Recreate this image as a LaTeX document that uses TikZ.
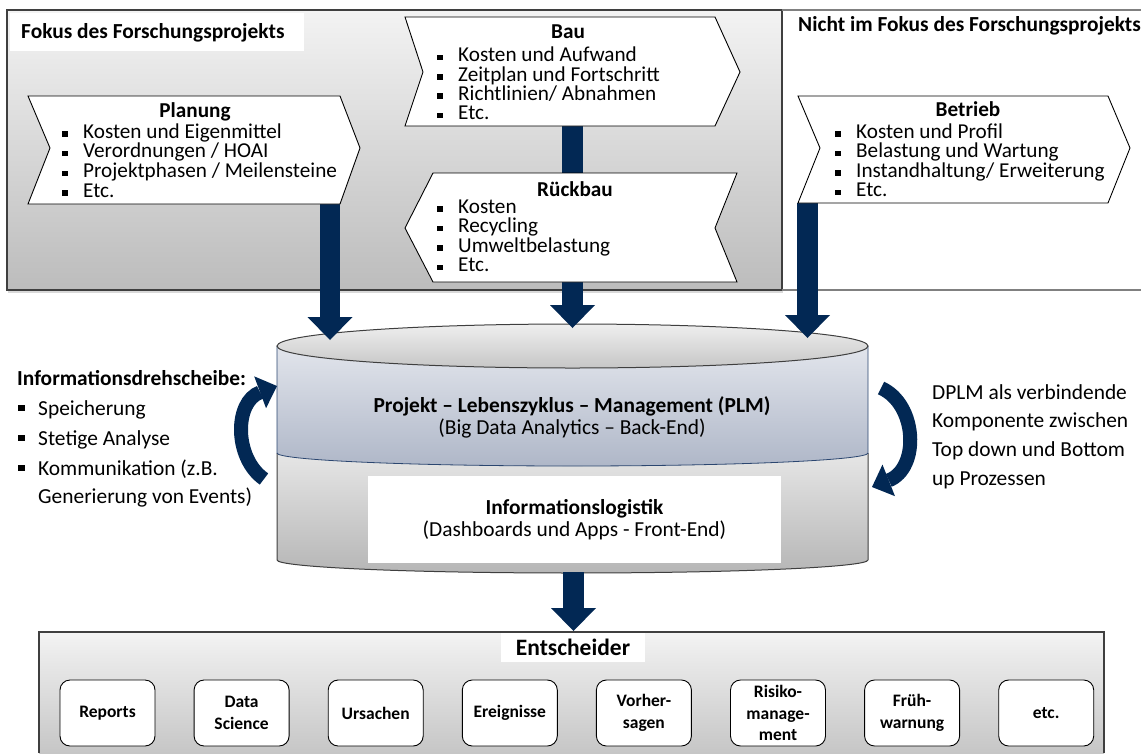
\documentclass[tikz,border=0pt]{standalone}
\usepackage{fontspec}
\setmainfont{Carlito}
\usetikzlibrary{arrows.meta,shadows}

\definecolor{navy}{RGB}{2,40,84}
\definecolor{boxtop}{HTML}{F3F3F3}
\definecolor{boxbottom}{HTML}{BCBCBC}
\definecolor{bandtop}{HTML}{E2E5EC}
\definecolor{bandbottom}{HTML}{AFB7C8}
\definecolor{lidtop}{HTML}{EFEFEF}
\definecolor{lidbottom}{HTML}{C6C6C6}
\definecolor{lowtop}{HTML}{E6E6E6}
\definecolor{lowbottom}{HTML}{B6B6B6}
\definecolor{edgegray}{HTML}{3F3F3F}
\definecolor{linegray}{HTML}{808080}
\definecolor{bandedge}{HTML}{2B4670}

\newcommand{\blt}{\makebox[21pt][l]{\rule[1.5pt]{5.5pt}{5.5pt}}}
\newcommand{\hubblt}{\makebox[20pt][l]{\rule[4pt]{6.5pt}{6.5pt}}}

\tikzset{
  chevbox/.style={draw=black, fill=white, line width=0.9pt},
  chevtitle/.style={anchor=base, inner sep=0pt, font=\fontsize{21.2}{20}\selectfont\bfseries},
  listline/.style={anchor=base west, inner sep=0pt, font=\fontsize{21.2}{20}\selectfont},
  sideline/.style={anchor=base west, inner sep=0pt, font=\fontsize{21.4}{28}\selectfont},
  bigarrow/.style={navy, line width=20.5pt, -{Triangle[width=45pt,length=23pt,line width=0pt]}},
  stemline/.style={navy, line width=20.5pt},
  turnarrow/.style={navy, line width=14pt, -{Triangle[width=34pt,length=18pt,line width=0pt]}},
  toolbox/.style={draw=black, line width=0.9pt, rounded corners=10pt, fill=white,
    minimum width=95pt, minimum height=66pt, align=center, inner sep=1pt,
    font=\fontsize{17.5}{21.5}\selectfont\bfseries},
}

\begin{document}
\begin{tikzpicture}[x=1pt,y=-1pt]
\useasboundingbox (0,0) rectangle (1141,753);

% Fokus des Forschungsprojekts
\path[draw=edgegray, line width=1.2pt, top color=boxtop, bottom color=boxbottom,
  drop shadow={opacity=0.3, shadow xshift=1pt, shadow yshift=-3pt}] (7,10) rectangle (782,290);
\draw[linegray, line width=1.2pt] (782,10) -- (1141,10);
\draw[linegray, line width=1.2pt] (782,290) -- (1141,290);
\fill[white] (10,13) rectangle (304,51);
\node[anchor=base west, inner sep=0pt, font=\fontsize{21.4}{24}\selectfont\bfseries] (fokus) at (21,38) {Fokus des Forschungsprojekts};
\node[anchor=base west, inner sep=0pt, font=\fontsize{21.4}{24}\selectfont\bfseries] (nichtfokus) at (798,31) {Nicht im Fokus des Forschungsprojekts};

% Zylinder (PLM)
\shade[top color=lowtop, bottom color=lowbottom] (277,453) -- (277,560)
  arc[start angle=180, end angle=0, x radius=295.5, y radius=13] -- (868,453)
  arc[start angle=0, end angle=180, x radius=295.5, y radius=13] -- cycle;
\shade[top color=bandtop, bottom color=bandbottom] (277,346) -- (277,453)
  arc[start angle=180, end angle=0, x radius=295.5, y radius=13] -- (868,346)
  arc[start angle=0, end angle=180, x radius=295.5, y radius=22] -- cycle;
\shade[top color=lidtop, bottom color=lidbottom] (572.5,346) ellipse [x radius=295.5, y radius=22];
\draw[edgegray, line width=1pt] (277,453) -- (277,560)
  arc[start angle=180, end angle=0, x radius=295.5, y radius=13] -- (868,453);
\draw[bandedge, line width=0.8pt] (277,346) -- (277,453)
  arc[start angle=180, end angle=0, x radius=295.5, y radius=13] -- (868,346);
\draw[edgegray, line width=1pt] (572.5,346) ellipse [x radius=295.5, y radius=22];
\node[align=center, font=\fontsize{21.4}{22.5}\selectfont] (plm) at (572,417.5)
  {\textbf{Projekt – Lebenszyklus – Management (PLM)}\\(Big Data Analytics – Back-End)};
\node[fill=white, minimum width=413pt, minimum height=87pt, align=center,
  font=\fontsize{21.4}{22}\selectfont] (infolog) at (574.5,519.5)
  {\textbf{Informationslogistik}\\(Dashboards und Apps - Front-End)};

% Pfeile
\coordinate (plan-out) at (330,204);
\coordinate (cyl-a) at (330,340);
\coordinate (bau-out) at (572.5,126);
\coordinate (rueck-in) at (572.5,173);
\coordinate (rueck-out) at (572.5,282);
\coordinate (cyl-b) at (572.5,328);
\coordinate (betr-out) at (807.5,203);
\coordinate (cyl-c) at (807.5,338);
\coordinate (cyl-out) at (573.5,572);
\coordinate (dec-in) at (573.5,631);
\draw[bigarrow] (plan-out) -- (cyl-a);
\draw[stemline] (bau-out) -- (rueck-in);
\draw[bigarrow] (rueck-out) -- (cyl-b);
\draw[bigarrow] (betr-out) -- (cyl-c);
\draw[bigarrow] (cyl-out) -- (dec-in);

% Planung
\draw[chevbox] (28,96) -- (340,96) -- (360,148) -- (340,204) -- (28,204) -- (50,148) -- cycle;
\node[chevtitle] (plan-title) at (195,117) {Planung};
\foreach \t [count=\i] in {Kosten und Eigenmittel, Verordnungen / HOAI, Projektphasen / Meilensteine, Etc.}
  \node[listline] (plan-\i) at (62,{118.5+19.7*\i}) {\blt\t};

% Bau
\draw[chevbox] (405,17) -- (715,17) -- (740,72) -- (715,126) -- (405,126) -- (423,72) -- cycle;
\node[chevtitle] (bau-title) at (568,38) {Bau};
\foreach \t [count=\i] in {Kosten und Aufwand, Zeitplan und Fortschritt, Richtlinien/ Abnahmen, Etc.}
  \node[listline] (bau-\i) at (437,{42.5+19.3*\i}) {\blt\t};

% Rueckbau
\draw[chevbox] (433,173) -- (737,173) -- (715,228) -- (737,282) -- (433,282) -- (405,228) -- cycle;
\node[chevtitle] (rueck-title) at (575,196) {Rückbau};
\foreach \t [count=\i] in {Kosten, Recycling, Umweltbelastung, Etc.}
  \node[listline] (rueck-\i) at (437,{193.5+19.6*\i}) {\blt\t};

% Betrieb
\draw[chevbox] (798,96) -- (1108,96) -- (1130,148) -- (1108,203) -- (798,203) -- (820,148) -- cycle;
\node[chevtitle] (betr-title) at (968,116.5) {Betrieb};
\foreach \t [count=\i] in {Kosten und Profil, Belastung und Wartung, Instandhaltung/ Erweiterung, Etc.}
  \node[listline] (betr-\i) at (835,{118.5+19.6*\i}) {\blt\t};

% Informationsdrehscheibe
\node[sideline, font=\fontsize{21.4}{28}\selectfont\bfseries] (hub) at (17,385) {Informationsdrehscheibe:};
\foreach \t/\y [count=\i] in {Speicherung/415, Stetige Analyse/445, Kommunikation (z.B./475}
  \node[sideline] (hub-\i) at (18,\y) {\hubblt\t};
\node[sideline] (hub-4) at (38,503) {Generierung von Events)};
\coordinate (turn-l-a) at (264,479);
\coordinate (turn-l-b) at (277,386);
\draw[turnarrow] (turn-l-a) .. controls (234,458) and (234,402) .. (turn-l-b);

% DPLM
\foreach \t [count=\i] in {DPLM als verbindende, Komponente zwischen, Top down und Bottom, up Prozessen}
  \node[sideline] (dplm-\i) at (932,{370.3+28.7*\i}) {\t};
\coordinate (turn-r-a) at (881,388);
\coordinate (turn-r-b) at (872,487);
\draw[turnarrow] (turn-r-a) .. controls (917,404) and (920,468) .. (turn-r-b);

% Entscheider
\shade[top color=boxtop, bottom color=lidbottom] (39,632) rectangle (1104,753);
\draw[edgegray, line width=1.2pt] (39,753) -- (39,632) -- (1104,632) -- (1104,753);
\node[fill=white, minimum width=144pt, minimum height=29pt, inner sep=0pt,
  font=\fontsize{23.5}{26}\selectfont\bfseries] (entsch) at (573,647.5) {Entscheider};
\foreach \t [count=\i] in {Reports, {Data\\Science}, Ursachen, Ereignisse, {Vorher-\\sagen},
    {Risiko-\\manage-\\ment}, {Früh-\\warnung}, etc.}
  \node[toolbox] (tool-\i) at ({107.5+134.1*(\i-1)},713) {\t};
\end{tikzpicture}
\end{document}
